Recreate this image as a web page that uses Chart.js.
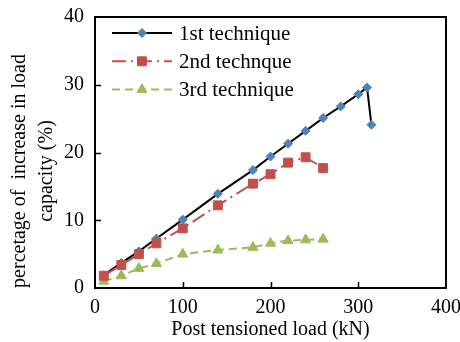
<!DOCTYPE html>
<html>
<head>
<meta charset="utf-8">
<script src="https://cdn.jsdelivr.net/npm/chart.js@4.4.1/dist/chart.umd.min.js"></script>
<style>
  html, body { margin: 0; padding: 0; background: #fff; }
  #wrap { width: 460px; height: 342px; }
</style>
</head>
<body>
<div id="wrap"><canvas id="chart"></canvas></div>
<script>
// values
const LOAD_1 = [10, 30, 50, 70, 100, 140, 180, 200, 220, 240, 260, 280, 300, 310, 315];
const PCT_1 = [1.9, 3.7, 5.4, 7.3, 10.1, 13.9, 17.4, 19.4, 21.3, 23.2, 25.1, 26.8, 28.6, 29.6, 24.1];

const LOAD_2 = [10, 30, 50, 70, 100, 140, 180, 200, 220, 240, 260];
const PCT_2 = [1.8, 3.4, 5.0, 6.6, 8.8, 12.2, 15.4, 16.8, 18.5, 19.3, 17.7];

const LOAD_3 = [10, 30, 50, 70, 100, 140, 180, 200, 220, 240, 260];
const PCT_3 = [1.0, 1.8, 2.9, 3.6, 5.0, 5.6, 6.0, 6.6, 7.0, 7.1, 7.2];

const SERIES_NAMES = ['1st technique', '2nd technque', '3rd technique'];
const X_TICKS = [0, 100, 200, 300, 400];
const Y_TICKS = [0, 10, 20, 30, 40];
const X_TITLE = 'Post tensioned load (kN)';
const Y_TITLE = ['percetage of  increase in load', 'capacity (%)'];

const FONT = "'Liberation Serif', 'Times New Roman', serif";

function toPoints(xs, ys) {
  return xs.map((x, i) => ({ x, y: ys[i] }));
}

const datasets = [
  {
    label: SERIES_NAMES[0],
    data: toPoints(LOAD_1, PCT_1),
    borderColor: '#000000',
    borderWidth: 2,
    pointStyle: 'rectRot',
    pointRadius: 4.5,
    pointBackgroundColor: '#4F81BD',
    pointBorderColor: '#4F81BD',
    pointBorderWidth: 1,
    order: 1,
  },
  {
    label: SERIES_NAMES[1],
    data: toPoints(LOAD_2, PCT_2),
    borderColor: '#C0504D',
    borderWidth: 2,
    borderDash: [14, 5, 2, 5],
    pointStyle: 'rect',
    pointRadius: 6.3,
    pointBackgroundColor: '#C0504D',
    pointBorderColor: '#C0504D',
    pointBorderWidth: 1,
    order: 0,
  },
  {
    label: SERIES_NAMES[2],
    data: toPoints(LOAD_3, PCT_3),
    borderColor: '#9BBB59',
    borderWidth: 2,
    borderDash: [8, 5],
    pointStyle: 'triangle',
    pointRadius: 5.8,
    pointBackgroundColor: '#9BBB59',
    pointBorderColor: '#9BBB59',
    pointBorderWidth: 1,
    order: 2,
  },
];

// Excel-style legend sitting inside the top-left of the plot box
const innerLegend = {
  id: 'innerLegend',
  afterDatasetsDraw(chart) {
    const { ctx, chartArea } = chart;
    const x0 = chartArea.left + 17;
    const x1 = x0 + 60;
    ctx.save();
    datasets.forEach((ds, i) => {
      const y = chartArea.top + 16 + i * 28.3;
      ctx.beginPath();
      ctx.setLineDash(ds.borderDash || []);
      ctx.strokeStyle = ds.borderColor;
      ctx.lineWidth = ds.borderWidth;
      ctx.moveTo(x0, y);
      ctx.lineTo(x1, y);
      ctx.stroke();
      ctx.setLineDash([]);
      ctx.fillStyle = ds.pointBackgroundColor;
      ctx.strokeStyle = ds.pointBorderColor;
      ctx.lineWidth = 1;
      Chart.helpers.drawPoint(ctx, { pointStyle: ds.pointStyle, radius: ds.pointRadius, borderWidth: 1 }, (x0 + x1) / 2, y);
      ctx.fillStyle = '#000';
      ctx.font = '21px ' + FONT;
      ctx.textBaseline = 'middle';
      ctx.fillText(ds.label, x1 + 7, y + 1);
    });
    ctx.restore();
  },
};

// plot box, inward tick marks, and the two-line y title centred on the canvas
const frame = {
  id: 'frame',
  afterDraw(chart) {
    const { ctx, chartArea, scales } = chart;
    ctx.save();
    ctx.strokeStyle = '#000';
    ctx.lineWidth = 2;
    ctx.strokeRect(chartArea.left, chartArea.top, chartArea.right - chartArea.left, chartArea.bottom - chartArea.top);
    ctx.lineWidth = 1.5;
    ctx.beginPath();
    Y_TICKS.slice(1, -1).forEach((v) => {
      const y = Math.round(scales.y.getPixelForValue(v)) + 0.5;
      ctx.moveTo(chartArea.left, y);
      ctx.lineTo(chartArea.left + 6, y);
    });
    X_TICKS.slice(1, -1).forEach((v) => {
      const x = Math.round(scales.x.getPixelForValue(v)) + 0.5;
      ctx.moveTo(x, chartArea.bottom);
      ctx.lineTo(x, chartArea.bottom - 6);
    });
    ctx.stroke();

    ctx.translate(20, chart.height / 2);
    ctx.rotate(-Math.PI / 2);
    ctx.fillStyle = '#000';
    ctx.font = '20px ' + FONT;
    ctx.textAlign = 'center';
    ctx.textBaseline = 'middle';
    Y_TITLE.forEach((line, i) => ctx.fillText(line, 0, i * 27));
    ctx.restore();
  },
};

new Chart(document.getElementById('chart'), {
  type: 'line',
  data: { datasets },
  options: {
    responsive: true,
    maintainAspectRatio: false,
    animation: false,
    events: [],
    layout: { padding: { top: 17, right: 14, left: 0, bottom: 0 } },
    plugins: { legend: { display: false }, tooltip: { enabled: false } },
    scales: {
      x: {
        type: 'linear',
        min: 0,
        max: 400,
        afterBuildTicks: (scale) => { scale.ticks = X_TICKS.map((v) => ({ value: v })); },
        afterFit: (scale) => {
          scale.height = 54;
          scale.paddingLeft = 0;
          scale.paddingRight = 0;
        },
        grid: { display: false, drawTicks: false },
        border: { display: false },
        ticks: { color: '#000', font: { family: FONT, size: 20 }, padding: 8, maxRotation: 0 },
        title: {
          display: true,
          text: X_TITLE,
          color: '#000',
          font: { family: FONT, size: 20 },
          padding: { top: 0, bottom: 0 },
        },
      },
      y: {
        min: 0,
        max: 40,
        afterBuildTicks: (scale) => { scale.ticks = Y_TICKS.map((v) => ({ value: v })); },
        afterFit: (scale) => {
          scale.width = 95;
          scale.paddingTop = 0;
          scale.paddingBottom = 0;
        },
        grid: { display: false, drawTicks: false },
        border: { display: false },
        ticks: { color: '#000', font: { family: FONT, size: 20 }, padding: 11 },
      },
    },
  },
  plugins: [innerLegend, frame],
});
</script>
</body>
</html>
